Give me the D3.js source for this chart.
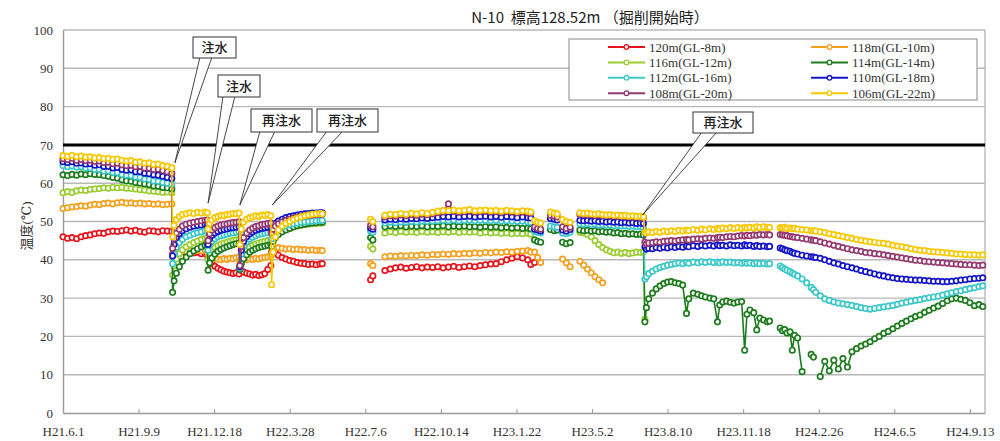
<!DOCTYPE html>
<html><head><meta charset="utf-8">
<script src="https://cdn.jsdelivr.net/npm/d3@7"></script>
<style>body{margin:0;background:#fff}svg{display:block}</style>
</head><body>
<svg id="chart" width="1000" height="441"></svg>
<script>
const N = null;
const none = k => Array(k).fill(null);

// elapsed days since H21.6.1 (2009-06-01)
const elapsedDays = [
 0,6,12,18,24,30,36,42,48,54,60,66,72,78,84,90,96,102,108,114,120,126,132,138,144,
 145,147,150,154,158,163,168,173,178,183,188,191,
 192,194,197,201,205,209,213,217,221,225,229,233,
 234,236,239,243,247,251,255,259,263,267,271,275,
 276,278,281,285,290,295,300,305,310,315,320,325,330,335,340,343,
 375,
 407,410,
 418,
 426,433,440,447,454,461,468,475,482,489,496,503,510,517,524,531,538,545,552,559,566,573,580,587,594,601,608,615,619,
 621,
 624,628,632,
 638,
 645,650,654,
 657,
 661,666,671,
 678,
 684,689,694,699,704,709,714,719,724,729,734,739,744,749,754,759,764,768,
 770,772,775,780,785,790,795,800,805,810,815,820,825,828,834,840,845,850,856,861,866,869,873,878,883,888,893,898,902,905,909,914,918,922,927,932,935,
 942,
 949,952,955,958,962,965,968,972,978,984,990,993,996,1002,1008,1014,1020,1026,1032,1038,1044,1050,1056,1062,1068,1074,1080,1086,1092,1098,1104,1110,1116,1122,1128,1134,1140,1146,1152,1158,1164,1170,1176,1182,1188,1194,1200,1206,1212,1217
];

const tickDays = [0,100,200,300,400,500,600,700,800,900,1000,1100,1200];
const tickLabels = ["H21.6.1","H21.9.9","H21.12.18","H22.3.28","H22.7.6","H22.10.14","H23.1.22","H23.5.2","H23.8.10","H23.11.18","H24.2.26","H24.6.5","H24.9.13"];
const yTicks = [0,10,20,30,40,50,60,70,80,90,100];

const seriesNames = ["120m(GL-8m)","118m(GL-10m)","116m(GL-12m)","114m(GL-14m)","112m(GL-16m)","110m(GL-18m)","108m(GL-20m)","106m(GL-22m)"];
const seriesColors = ["#e8141b","#f5a01e","#9acd32","#1e7b1e","#3cc8c8","#1414c8","#953a70","#f7c800"];

const s120 = [
 46.0,45.6,45.8,45.5,46.0,46.3,46.5,46.8,47.0,46.9,47.3,47.5,47.4,47.6,47.8,47.5,47.7,47.4,47.2,47.6,47.5,47.3,47.6,47.5,47.4,
 41.5,42.0,42.2,42.0,42.1,41.9,42.0,41.8,41.9,41.6,41.7,41.5,
 40.6,39.8,39.0,38.3,37.8,37.4,37.0,36.8,36.6,36.4,36.6,36.3,
 37.5,37.2,36.8,36.5,36.3,36.0,36.2,35.9,36.1,36.4,37.5,38.5,
 42.0,42.5,41.8,41.2,40.6,40.2,39.8,39.6,39.3,39.1,39.0,38.8,38.9,38.7,38.9,39.0,
 N,
 34.8,35.8,
 N,
 37.2,37.6,37.9,38.1,37.8,38.0,38.2,37.9,38.1,38.0,38.2,37.9,38.1,38.3,38.0,38.2,38.4,38.2,38.5,38.7,38.9,39.0,39.5,40.0,40.4,40.8,40.5,40.0,38.8,
 N,
 39.3,N,N,
 N,
 N,N,N,
 N,
 N,N,N,
 N,
 ...none(18),
 ...none(37),
 N,
 ...none(50)
];
const s118 = [
 53.4,53.6,53.8,53.9,54.1,54.0,54.3,54.5,54.4,54.7,54.8,54.6,54.9,55.0,54.8,54.9,54.7,54.8,54.6,54.7,54.5,54.6,54.4,54.5,54.6,
 41.0,41.5,41.8,42.0,42.3,42.2,42.4,42.3,42.5,42.4,42.6,42.5,
 41.5,41.0,40.6,40.3,40.2,40.0,40.3,40.1,40.4,40.3,40.6,40.8,
 39.5,40.0,40.2,40.0,40.3,40.1,40.4,40.2,40.5,40.6,40.8,41.0,
 41.5,42.5,43.0,43.2,43.0,42.8,42.9,42.7,42.8,42.6,42.7,42.5,42.6,42.4,42.5,42.4,
 N,
 39.0,38.5,
 N,
 40.8,41.0,40.9,41.1,41.0,41.2,41.1,41.3,41.2,41.4,41.3,41.5,41.4,41.6,41.5,41.7,41.6,41.8,41.7,41.9,41.8,42.0,41.9,42.1,42.0,42.2,42.3,42.4,42.0,
 N,
 42.0,40.6,39.3,
 N,
 N,N,N,
 N,
 40.2,39.2,38.2,
 N,
 39.6,38.6,37.6,36.6,35.6,34.8,34.0,N,N,N,N,N,N,N,N,N,N,N,
 ...none(37),
 N,
 ...none(50)
];
const s116 = [
 57.5,57.8,57.6,58.0,58.2,58.1,58.4,58.5,58.6,58.8,58.7,58.9,58.8,58.9,58.7,58.6,58.5,58.3,58.2,58.0,57.9,57.8,57.6,57.7,57.5,
 36.0,38.5,40.2,41.6,42.6,43.4,44.0,44.5,44.9,45.3,45.6,45.8,
 40.0,41.5,42.5,43.2,43.7,44.1,44.4,44.6,44.8,45.0,45.2,45.3,
 37.8,40.0,41.6,42.6,43.3,43.8,44.1,44.4,44.6,44.8,45.0,45.1,
 44.0,45.2,46.2,46.9,47.5,47.9,48.3,48.6,48.8,49.0,49.2,49.3,49.4,49.5,49.6,49.6,
 N,
 43.5,42.8,
 N,
 47.0,47.3,47.1,47.4,47.2,47.3,47.1,47.4,47.2,47.3,47.1,47.3,47.2,47.4,47.1,47.3,47.2,47.3,47.0,47.2,47.0,47.1,46.9,47.0,46.8,46.9,46.8,46.9,46.7,
 N,
 N,N,N,
 N,
 N,N,N,
 N,
 N,N,N,
 N,
 47.2,47.0,46.6,46.0,45.0,44.0,43.2,42.6,42.2,41.8,42.0,41.7,41.9,41.6,41.8,42.0,41.9,42.1,
 24.5,...none(36),
 N,
 ...none(50)
];
const s114 = [
 62.2,62.0,62.3,62.1,62.4,62.2,62.5,62.3,62.2,62.0,61.8,61.5,61.3,60.9,60.6,60.5,60.2,60.0,59.8,59.6,59.3,59.2,58.9,58.8,58.5,
 31.5,34.5,36.5,38.2,39.6,40.7,41.6,42.3,42.9,43.4,43.8,44.0,
 37.3,39.2,40.5,41.5,42.2,42.7,43.1,43.4,43.7,44.0,44.2,44.4,
 37.5,39.0,40.3,41.3,42.0,42.5,42.9,43.2,43.4,43.6,43.8,43.9,
 43.5,44.8,45.8,46.6,47.3,47.8,48.2,48.6,48.9,49.1,49.3,49.5,49.6,49.7,49.8,49.8,
 N,
 45.8,45.2,
 N,
 48.6,48.9,48.7,48.9,48.6,48.8,48.7,48.9,48.6,48.8,48.7,48.9,48.6,48.8,48.7,48.8,48.6,48.7,48.5,48.7,48.5,48.6,48.4,48.5,48.3,48.4,48.2,48.3,48.1,
 N,
 45.2,44.8,44.6,
 N,
 47.9,47.6,47.8,
 N,
 44.6,44.2,44.5,
 N,
 47.8,47.6,47.7,47.5,47.6,47.3,47.4,47.2,47.3,47.0,47.1,46.8,46.9,46.7,46.8,46.6,46.7,46.5,
 23.8,27.5,29.8,31.3,32.4,33.2,33.8,34.2,34.3,34.0,33.8,33.4,26.0,29.8,31.3,31.0,30.6,30.3,30.0,29.8,23.8,28.2,29.0,29.2,28.9,28.7,29.0,29.1,16.4,25.8,26.9,26.2,21.7,24.8,24.3,23.8,24.0,
 N,
 22.2,21.5,21.8,20.9,21.2,16.4,20.3,19.6,10.8,N,15.3,14.6,N,9.5,13.5,11.0,13.8,11.5,14.2,12.0,16.0,16.8,17.5,18.0,18.6,19.4,20.0,20.8,21.3,22.0,22.7,23.4,24.0,24.6,25.2,25.6,26.3,26.8,27.4,27.9,28.6,29.3,29.8,30.0,29.7,29.4,28.8,28.0,28.3,27.8
];
const s112 = [
 64.6,64.3,64.5,64.2,64.3,63.9,64.0,63.6,63.6,63.2,63.2,62.8,62.8,62.3,62.1,62.0,61.6,61.5,61.1,61.0,60.6,60.5,60.2,60.0,59.7,
 39.0,41.5,43.3,44.5,45.3,46.0,46.4,46.8,47.1,47.3,47.6,47.7,
 42.5,44.0,44.9,45.5,46.0,46.3,46.5,46.7,46.9,47.0,47.2,47.3,
 38.0,41.5,43.5,44.7,45.4,45.9,46.3,46.6,46.8,47.0,47.1,47.2,
 45.5,46.6,47.4,48.0,48.5,48.9,49.2,49.4,49.6,49.8,49.9,50.0,50.1,50.2,50.2,50.3,
 N,
 47.5,47.2,
 N,
 49.6,49.8,49.7,49.9,49.8,50.0,49.9,50.1,50.0,50.1,50.2,50.3,50.2,50.4,50.2,50.3,50.4,50.2,50.3,50.3,50.2,50.3,50.1,50.2,50.1,50.0,50.1,49.9,49.8,
 N,
 47.4,47.2,47.0,
 N,
 48.8,48.6,48.5,
 N,
 47.0,46.8,47.2,
 N,
 49.4,49.3,49.4,49.2,49.3,49.1,49.2,49.0,49.1,48.9,49.0,48.8,48.9,48.7,48.8,48.6,48.7,48.5,
 35.0,35.6,36.4,37.0,37.6,38.0,38.3,38.6,38.8,39.0,39.2,39.0,39.3,39.1,39.4,39.2,39.5,39.3,39.5,39.3,39.4,39.2,39.5,39.3,39.4,39.2,39.3,39.1,39.3,39.1,39.2,39.0,39.2,39.0,39.1,38.9,39.0,
 N,
 38.4,38.0,37.6,37.3,36.9,36.5,36.2,35.8,35.0,34.0,32.8,32.2,31.5,30.6,29.8,29.4,29.0,28.7,28.5,28.3,28.1,27.8,27.5,27.3,27.1,27.3,27.5,27.7,27.9,28.1,28.4,28.7,28.9,29.2,29.4,29.6,29.9,30.1,30.3,30.5,30.8,31.1,31.4,31.7,31.9,32.2,32.5,32.7,33.0,33.2
];
const s110 = [
 65.6,65.4,65.6,65.2,65.3,65.0,65.1,64.7,64.8,64.4,64.4,64.0,64.1,63.6,63.4,63.5,63.0,63.0,62.6,62.5,62.2,62.1,61.8,61.5,61.2,
 41.0,44.0,45.8,46.8,47.6,48.1,48.5,48.8,49.0,49.1,49.3,49.4,
 44.0,45.5,46.4,47.0,47.4,47.7,47.9,48.1,48.3,48.4,48.5,48.7,
 38.2,42.5,44.8,46.0,46.8,47.3,47.7,48.0,48.2,48.4,48.5,48.6,
 47.5,48.6,49.5,50.1,50.6,51.0,51.3,51.5,51.7,51.9,52.0,52.1,52.2,52.2,52.3,52.3,
 N,
 48.3,48.0,
 N,
 50.4,50.6,50.5,50.7,50.6,50.8,50.7,50.9,50.8,51.0,51.1,51.3,51.2,51.4,51.2,51.3,51.4,51.2,51.3,51.4,51.2,51.3,51.1,51.3,51.2,51.0,51.2,51.0,50.9,
 N,
 48.0,47.8,47.5,
 N,
 50.8,50.6,50.4,
 N,
 47.8,47.5,47.9,
 N,
 50.3,50.2,50.3,50.1,50.2,50.0,50.1,49.9,50.0,49.8,49.9,49.7,49.8,49.6,49.7,49.5,49.6,49.5,
 43.4,42.8,43.0,42.9,43.2,43.0,43.3,43.1,43.4,43.2,43.5,43.3,43.6,43.4,43.7,43.5,43.8,43.6,43.8,43.6,43.9,43.7,43.8,43.6,43.9,43.7,43.8,43.6,43.9,43.7,43.8,43.5,43.7,43.5,43.6,43.4,43.5,
 N,
 43.1,42.9,42.6,42.4,42.2,41.9,41.7,41.5,41.2,41.0,40.8,40.7,40.6,40.4,40.0,39.6,39.2,38.9,38.5,38.2,37.9,37.6,37.2,36.9,36.6,36.3,36.0,35.8,35.5,35.3,35.1,35.0,34.9,34.8,34.7,34.7,34.6,34.5,34.4,34.4,34.3,34.3,34.4,34.5,34.7,34.8,35.0,35.1,35.2,35.3
];
const s108 = [
 66.4,66.2,66.5,66.0,66.2,65.9,66.0,65.7,65.8,65.4,65.5,65.1,65.2,64.8,64.6,64.7,64.3,64.4,64.0,63.9,63.6,63.7,63.3,63.0,62.6,
 43.0,45.5,47.0,48.0,48.8,49.3,49.6,49.8,50.0,50.2,50.3,50.4,
 45.0,46.8,47.8,48.4,48.8,49.1,49.3,49.4,49.6,49.7,49.8,49.9,
 38.5,43.5,45.8,47.0,47.8,48.3,48.7,48.9,49.2,49.3,49.5,49.6,
 47.0,48.0,48.8,49.4,49.9,50.3,50.6,50.9,51.1,51.3,51.5,51.6,51.7,51.8,51.9,51.9,
 N,
 49.0,48.6,
 N,
 51.2,51.5,51.4,51.7,51.5,51.8,51.6,51.9,51.8,52.0,52.3,52.5,54.6,52.6,52.4,52.6,52.7,52.5,52.6,52.7,52.5,52.6,52.4,52.6,52.5,52.3,52.5,52.3,52.2,
 N,
 48.6,48.2,48.0,
 N,
 51.6,51.4,51.2,
 N,
 48.6,48.2,48.5,
 N,
 51.8,51.9,51.7,51.8,51.6,51.7,51.5,51.6,51.4,51.5,51.3,51.4,51.2,51.3,51.1,51.2,51.0,51.0,
 44.6,44.2,44.4,44.5,44.7,44.6,44.8,44.9,45.0,44.9,45.1,45.2,45.3,45.2,45.4,45.5,45.4,45.6,45.7,45.6,45.8,45.9,45.8,46.0,46.1,46.0,46.2,46.3,46.2,46.4,46.3,46.5,46.4,46.6,46.5,46.6,46.5,
 N,
 46.6,46.5,46.4,46.3,46.1,46.0,45.9,45.8,45.6,45.4,45.2,45.1,45.0,44.7,44.4,44.1,43.8,43.5,43.2,42.9,42.6,42.4,42.2,41.9,41.8,41.6,41.5,41.3,41.1,40.9,40.7,40.5,40.3,40.1,39.9,39.8,39.6,39.5,39.4,39.3,39.2,39.1,39.0,38.9,38.8,38.7,38.7,38.6,38.5,38.6
];
const s106 = [
 67.2,67.0,67.3,66.9,67.1,66.8,66.9,66.6,66.7,66.4,66.5,66.2,66.3,66.0,65.8,65.9,65.5,65.6,65.2,65.3,64.9,65.0,64.6,64.4,64.0,
 46.0,49.0,50.5,51.3,51.8,52.0,52.3,52.1,52.4,52.2,52.5,52.3,
 48.0,49.5,50.4,51.0,51.3,51.6,51.5,51.8,51.9,52.1,52.0,52.2,
 44.0,48.0,49.8,50.6,51.0,51.2,51.5,51.3,51.7,51.6,51.8,51.5,
 33.5,42.0,46.0,47.8,48.8,49.5,50.0,50.5,50.9,51.2,51.5,51.7,51.9,52.0,52.1,52.0,
 N,
 50.6,50.0,
 N,
 51.6,51.9,51.8,52.1,51.9,52.2,52.0,52.3,52.1,52.4,52.7,52.9,52.8,53.0,52.8,52.9,53.1,52.8,52.9,53.0,52.8,52.9,52.7,52.9,52.8,52.6,52.8,52.7,52.5,
 N,
 50.2,49.8,49.6,
 N,
 52.5,52.2,52.0,
 N,
 50.5,50.0,49.8,
 N,
 52.3,52.1,52.2,52.0,51.9,52.0,51.8,51.7,51.8,51.6,51.7,51.5,51.6,51.4,51.5,51.3,51.4,51.2,
 47.2,47.0,47.3,47.1,47.4,47.2,47.5,47.3,47.6,47.4,47.7,47.5,47.8,47.6,47.9,47.7,48.0,47.8,48.1,47.9,48.2,48.0,48.3,48.1,48.4,48.2,48.4,48.2,48.5,48.3,48.5,48.3,48.6,48.4,48.6,48.4,48.5,
 N,
 48.4,48.3,48.5,48.2,48.3,48.1,48.2,48.0,47.9,47.8,47.6,47.6,47.5,47.3,47.1,46.8,46.6,46.3,46.1,45.8,45.6,45.3,45.1,44.9,44.7,44.6,44.4,44.3,44.1,43.8,43.6,43.4,43.2,42.9,42.7,42.5,42.4,42.2,42.1,42.0,41.9,41.8,41.7,41.5,41.5,41.4,41.3,41.3,41.2,41.3
];
const seriesValues = [s120,s118,s116,s114,s112,s110,s108,s106];

const referenceLine = 70;
const callouts = [
 {label:"注水",   day:148, value:65.3},
 {label:"注水",   day:192, value:54.8},
 {label:"再注水", day:234, value:54.3},
 {label:"再注水", day:277, value:54.3},
 {label:"再注水", day:767, value:51.7}
];
// box layout (pixels): left, top, width, height, wedge base x1, x2
const calloutBoxes = [
 [193,37,43,21,200,212],
 [218,75,42,22,223,235],
 [251,109,61,23,260,275],
 [317,109,61,23,327,343],
 [693,112,60,21,702,717]
];

seriesValues.forEach((s,i)=>{ if(s.length!==elapsedDays.length) throw new Error("length mismatch "+seriesNames[i]+" "+s.length+" vs "+elapsedDays.length); });

const svg = d3.select("#chart");
const x = d3.scaleLinear().domain([0,1220]).range([63,985]);
const y = d3.scaleLinear().domain([0,100]).range([413,30]);
const serif = "'Liberation Serif','DejaVu Serif','Noto Sans CJK JP',serif";
const gothic = "'Noto Sans CJK JP','Noto Sans',sans-serif";

// title
svg.append("text").attr("x",590).attr("y",23).attr("text-anchor","middle")
 .attr("font-family",gothic).attr("font-size",15).attr("fill","#222")
 .style("white-space","pre").text("N-10  標高128.52m （掘削開始時）");

// gridlines
svg.append("g").selectAll("line").data(yTicks.filter(t=>t>0)).join("line")
 .attr("x1",x(0)).attr("x2",x(1220)).attr("y1",d=>y(d)).attr("y2",d=>y(d))
 .attr("stroke","#b8b8b8").attr("stroke-width",1.4);
// right border
svg.append("line").attr("x1",x(1220)).attr("x2",x(1220)).attr("y1",y(100)).attr("y2",y(0))
 .attr("stroke","#b8b8b8").attr("stroke-width",1.4);

// y axis
const ya = svg.append("g").attr("transform",`translate(${x(0)},0)`)
 .call(d3.axisLeft(y).tickValues(yTicks).tickSize(0).tickPadding(10));
ya.select(".domain").attr("stroke","#999").attr("stroke-width",1.4);
ya.selectAll("text").attr("font-family",serif).attr("font-size",13).attr("fill","#333");

// x axis
const xa = svg.append("g").attr("transform",`translate(0,${y(0)})`)
 .call(d3.axisBottom(x).tickValues(tickDays).tickFormat((d,i)=>tickLabels[i]).tickSizeInner(-4).tickSizeOuter(0).tickPadding(14));
xa.select(".domain").attr("stroke","#999").attr("stroke-width",1.4);
xa.selectAll(".tick line").attr("stroke","#999");
xa.selectAll("text").attr("font-family",serif).attr("font-size",13).attr("fill","#333");

// y title
svg.append("text").attr("transform","translate(31,226) rotate(-90)").attr("text-anchor","middle")
 .attr("font-family",serif).attr("font-size",13).attr("fill","#333").text("温度(℃)");

// reference line
svg.append("line").attr("x1",x(0)).attr("x2",x(1220)).attr("y1",y(referenceLine)).attr("y2",y(referenceLine))
 .attr("stroke","#000").attr("stroke-width",3);

// series
const line = d3.line().defined(d=>d.v!=null).x(d=>x(d.d)).y(d=>y(d.v));
seriesValues.forEach((vals,i)=>{
 const pts = elapsedDays.map((d,j)=>({d, v: vals[j]}));
 const g = svg.append("g");
 g.append("path").datum(pts).attr("d",line).attr("fill","none")
  .attr("stroke",seriesColors[i]).attr("stroke-width",1.6);
 g.selectAll("circle").data(pts.filter(p=>p.v!=null)).join("circle")
  .attr("cx",p=>x(p.d)).attr("cy",p=>y(p.v)).attr("r",2.7)
  .attr("fill","#fff").attr("stroke",seriesColors[i]).attr("stroke-width",1.7);
});

// legend
const lg = svg.append("g");
lg.append("rect").attr("x",569).attr("y",39).attr("width",408).attr("height",61)
 .attr("fill","#fff").attr("stroke","#888").attr("stroke-width",1);
seriesNames.forEach((name,i)=>{
 const col = i%2, row = Math.floor(i/2);
 const lx = col===0 ? 608 : 811;
 const ly = 47 + row*15.4;
 lg.append("line").attr("x1",lx).attr("x2",lx+37).attr("y1",ly).attr("y2",ly)
  .attr("stroke",seriesColors[i]).attr("stroke-width",2);
 lg.append("circle").attr("cx",lx+18.5).attr("cy",ly).attr("r",2.3)
  .attr("fill","#fff").attr("stroke",seriesColors[i]).attr("stroke-width",1.3);
 lg.append("text").attr("x",lx+41).attr("y",ly+4.5).attr("font-family",serif)
  .attr("font-size",13).attr("fill","#333").text(name);
});

// callouts
callouts.forEach((c,i)=>{
 const [bx,by,bw,bh,w1,w2] = calloutBoxes[i];
 const tx = x(c.day), ty = y(c.value);
 const g = svg.append("g");
 g.append("path").attr("d",`M${w1},${by+bh-1} L${tx},${ty} L${w2},${by+bh-1}`)
  .attr("fill","#fff").attr("stroke","#333").attr("stroke-width",0.9);
 g.append("rect").attr("x",bx).attr("y",by).attr("width",bw).attr("height",bh)
  .attr("fill","#fff").attr("stroke","#333").attr("stroke-width",1);
 g.append("text").attr("x",bx+bw/2).attr("y",by+bh/2+4.5).attr("text-anchor","middle")
  .attr("font-family",gothic).attr("font-size",13).attr("font-weight",500).attr("fill","#222").text(c.label);
});
</script>
</body></html>
